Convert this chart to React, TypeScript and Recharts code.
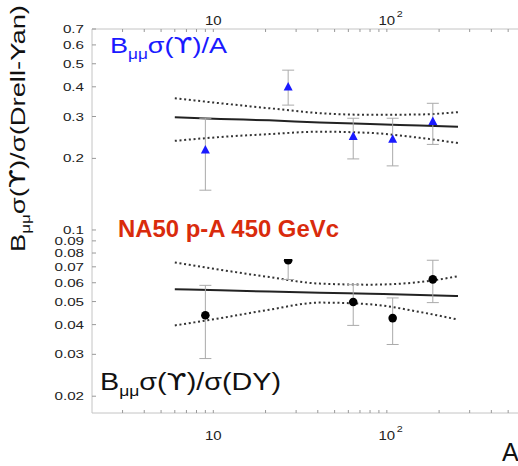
import React from 'react';
import {
  ComposedChart,
  Line,
  Scatter,
  ErrorBar,
  XAxis,
  YAxis,
} from 'recharts';

// NA50 p-A 450 GeV: target mass number
const massA = [9, 27, 64, 108, 184];

// B_mumu sigma(Upsilon)/A  (blue triangles)
const ratioPerA = [0.217, 0.399, 0.247, 0.241, 0.286];
const ratioPerALo = [0.147, 0.335, 0.199, 0.186, 0.229];
const ratioPerAHi = [0.295, 0.47, 0.295, 0.295, 0.341];

// B_mumu sigma(Upsilon)/sigma(DY)  (black circles)
const ratioDY = [0.0438, 0.0746, 0.0498, 0.0426, 0.062];
const ratioDYLo = [0.0288, 0.0619, 0.0397, 0.033, 0.0495];
const ratioDYHi = [0.0585, 0.088, 0.0589, 0.0518, 0.0746];

// fit lines and their bands, read at these A values
const fitA = [6, 11, 21, 41, 80, 155, 257];
const fitPerA = [0.298, 0.293, 0.289, 0.283, 0.279, 0.275, 0.272];
const fitPerAHi = [0.358, 0.341, 0.325, 0.31, 0.305, 0.306, 0.313];
const fitPerALo = [0.237, 0.246, 0.253, 0.259, 0.256, 0.244, 0.232];
const fitDY = [0.0563, 0.0558, 0.0551, 0.0545, 0.0539, 0.0533, 0.0528];
const fitDYHi = [0.073, 0.068, 0.0634, 0.0595, 0.0589, 0.0604, 0.0639];
const fitDYLo = [0.0397, 0.0426, 0.0462, 0.0495, 0.0487, 0.0452, 0.042];

const yTicks = [0.02, 0.03, 0.04, 0.05, 0.06, 0.07, 0.08, 0.09, 0.1, 0.2, 0.3, 0.4, 0.5, 0.6, 0.7];
const xTicks = [3, 4, 5, 6, 7, 8, 9, 10, 20, 30, 40, 50, 60, 70, 80, 90, 100, 200, 300, 400, 500];

const FONT = '"Liberation Sans", Arial, "DejaVu Sans", sans-serif';
const UPS = '"DejaVu Sans", sans-serif';
const AXIS = '#c4c4c4';
const TICK = '#999';

const perAData = massA.map((a, i) => ({
  a,
  v: ratioPerA[i],
  err: [ratioPerA[i] - ratioPerALo[i], ratioPerAHi[i] - ratioPerA[i]],
}));
const dyData = massA.map((a, i) => ({
  a,
  v: ratioDY[i],
  err: [ratioDY[i] - ratioDYLo[i], ratioDYHi[i] - ratioDY[i]],
}));
const fitTop = fitA.map((a, i) => ({ a, mid: fitPerA[i], hi: fitPerAHi[i], lo: fitPerALo[i] }));
const fitBot = fitA.map((a, i) => ({ a, mid: fitDY[i], hi: fitDYHi[i], lo: fitDYLo[i] }));

const Triangle = (p: any) => (
  <polygon
    points={`${p.cx},${p.cy - 5} ${p.cx - 4.5},${p.cy + 3.5} ${p.cx + 4.5},${p.cy + 3.5}`}
    fill="#1a1aff"
  />
);
const Dot = (p: any) => <circle cx={p.cx} cy={p.cy} r={4.3} fill="#000" />;
const Nothing = () => <g />;

const PowLabel = ({ value, x, y }: { value: number; x: number; y: number }) => {
  if (value === 10) {
    return (
      <text transform={`translate(${x},${y}) scale(1.2,1)`} textAnchor="middle" fontSize={12.5} fontFamily={FONT} fill="#222">
        10
      </text>
    );
  }
  if (value === 100) {
    return (
      <g>
        <text transform={`translate(${x},${y}) scale(1.2,1)`} textAnchor="middle" fontSize={12.5} fontFamily={FONT} fill="#222">
          10
        </text>
        <text transform={`translate(${x + 13},${y - 8}) scale(1.2,1)`} textAnchor="middle" fontSize={9} fontFamily={FONT} fill="#222">
          2
        </text>
      </g>
    );
  }
  return null;
};

const BottomTick = (props: any) => {
  const { x, y, payload } = props;
  return (
    <g>
      <line x1={x} x2={x} y1={y} y2={y - 3} stroke={TICK} />
      <PowLabel value={payload.value} x={x} y={y + 27} />
    </g>
  );
};

const TopTick = (props: any) => {
  const { x, y, payload } = props;
  return (
    <g>
      <line x1={x} x2={x} y1={y} y2={y + 3} stroke={TICK} />
      <PowLabel value={payload.value} x={x} y={y - 4} />
    </g>
  );
};

const LeftTick = (props: any) => {
  const { x, y, payload } = props;
  return (
    <g>
      <line x1={x} x2={x + 4} y1={y} y2={y} stroke={TICK} />
      <text
        transform={`translate(${x - 8},${y + 4}) scale(1.32,1)`}
        textAnchor="end"
        fontSize={11.5}
        fontFamily={FONT}
        fill="#222"
      >
        {String(payload.value)}
      </text>
    </g>
  );
};

const RightTick = (props: any) => {
  const { x, y } = props;
  return <line x1={x} x2={x - 4} y1={y} y2={y} stroke={TICK} />;
};

export default function App() {
  return (
    <div style={{ position: 'absolute', left: 0, top: 0, width: 518, height: 466, overflow: 'hidden', background: '#fff' }}>
      <ComposedChart width={540} height={466} margin={{ top: 9, right: 20, left: 32, bottom: 23 }}>
        <XAxis
          dataKey="a"
          type="number"
          scale="log"
          domain={[2, 585]}
          allowDataOverflow
          ticks={xTicks}
          interval={0}
          tickSize={0}
          tickMargin={0}
          height={30}
          stroke={AXIS}
          tick={<BottomTick />}
        />
        <XAxis
          xAxisId="top"
          orientation="top"
          dataKey="a"
          type="number"
          scale="log"
          domain={[2, 585]}
          allowDataOverflow
          ticks={xTicks}
          interval={0}
          tickSize={0}
          tickMargin={0}
          height={20}
          stroke={AXIS}
          tick={<TopTick />}
        />
        <YAxis
          dataKey="v"
          type="number"
          scale="log"
          domain={[0.017, 0.7]}
          allowDataOverflow
          ticks={yTicks}
          interval={0}
          tickSize={0}
          tickMargin={0}
          width={60}
          stroke={AXIS}
          tick={<LeftTick />}
        />
        <YAxis
          yAxisId="right"
          orientation="right"
          dataKey="v"
          type="number"
          scale="log"
          domain={[0.017, 0.7]}
          allowDataOverflow
          ticks={yTicks}
          interval={0}
          tickSize={0}
          tickMargin={0}
          width={0}
          stroke={AXIS}
          tick={<RightTick />}
        />

        <Line data={fitTop} dataKey="hi" type="monotone" stroke="#333" strokeWidth={2} strokeDasharray="2 2.7" dot={false} isAnimationActive={false} />
        <Line data={fitTop} dataKey="lo" type="monotone" stroke="#333" strokeWidth={2} strokeDasharray="2 2.7" dot={false} isAnimationActive={false} />
        <Line data={fitTop} dataKey="mid" type="monotone" stroke="#222" strokeWidth={2} dot={false} isAnimationActive={false} />
        <Line data={fitBot} dataKey="hi" type="monotone" stroke="#333" strokeWidth={2} strokeDasharray="2 2.7" dot={false} isAnimationActive={false} />
        <Line data={fitBot} dataKey="lo" type="monotone" stroke="#333" strokeWidth={2} strokeDasharray="2 2.7" dot={false} isAnimationActive={false} />
        <Line data={fitBot} dataKey="mid" type="monotone" stroke="#222" strokeWidth={2} dot={false} isAnimationActive={false} />

        <Scatter data={perAData} shape={<Triangle />} isAnimationActive={false}>
          <ErrorBar dataKey="err" direction="y" width={6} stroke="#aaa" strokeWidth={1} />
        </Scatter>
        <Scatter data={dyData} shape={<Dot />} isAnimationActive={false}>
          <ErrorBar dataKey="err" direction="y" width={6} stroke="#aaa" strokeWidth={1} />
        </Scatter>
        {/* same points on the mirrored axes so the top and right axes get their ticks */}
        <Scatter data={perAData} xAxisId="top" yAxisId="right" shape={<Nothing />} isAnimationActive={false} />
      </ComposedChart>

      <svg width={518} height={466} style={{ position: 'absolute', left: 0, top: 0, pointerEvents: 'none' }} fontFamily={FONT}>
        <text transform="translate(25,252) rotate(-90)" fontSize={21} fill="#111" textLength={247} lengthAdjust="spacingAndGlyphs">
          B<tspan dy={5} fontSize={13}>μμ</tspan>
          <tspan dy={-5}>σ(</tspan>
          <tspan fontFamily={UPS}>ϒ</tspan>
          <tspan>)/σ(Drell-Yan)</tspan>
        </text>
        <text x={110} y={53} fontSize={22} fill="#1a1aff" textLength={117} lengthAdjust="spacingAndGlyphs">
          B<tspan dy={6} fontSize={14}>μμ</tspan>
          <tspan dy={-6}>σ(</tspan>
          <tspan fontFamily={UPS}>ϒ</tspan>
          <tspan>)/A</tspan>
        </text>
        <rect x={114} y={214} width={230} height={45} fill="#fff" />
        <text x={118} y={237} fontSize={23} fontWeight="bold" fill="#d92b0c" textLength={221} lengthAdjust="spacingAndGlyphs">
          NA50 p-A 450 GeVc
        </text>
        <text x={100} y={390} fontSize={23} fill="#111" textLength={181} lengthAdjust="spacingAndGlyphs">
          B<tspan dy={6} fontSize={14}>μμ</tspan>
          <tspan dy={-6}>σ(</tspan>
          <tspan fontFamily={UPS}>ϒ</tspan>
          <tspan>)/σ(DY)</tspan>
        </text>
        <text x={502} y={461} fontSize={25} fill="#111">A</text>
      </svg>
    </div>
  );
}
